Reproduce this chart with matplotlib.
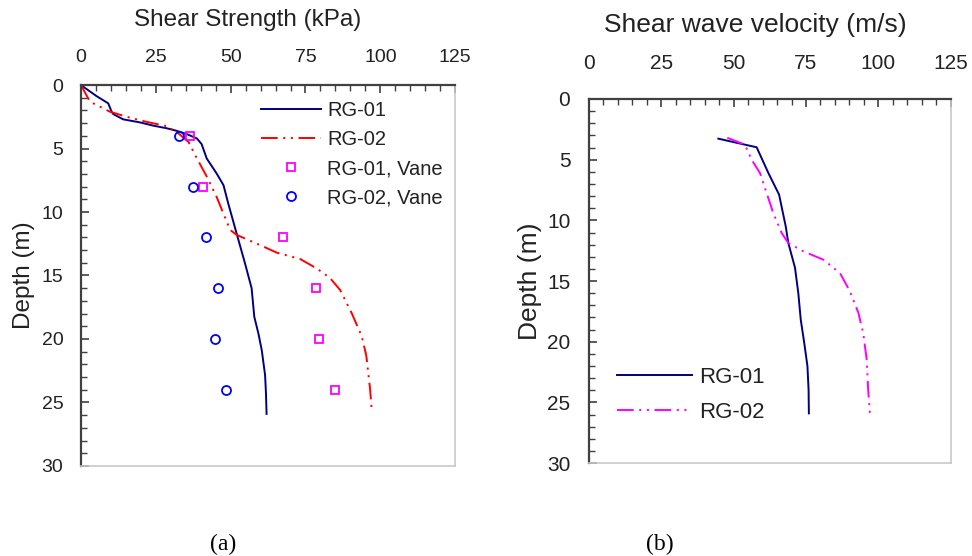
import matplotlib
matplotlib.use("Agg")
import matplotlib.pyplot as plt
from matplotlib.ticker import MultipleLocator

plt.rcParams["font.family"] = ["Liberation Sans", "DejaVu Sans"]
plt.rcParams["lines.scale_dashes"] = False

# --- (a) shear strength profiles ---
rg01_su = [0, 5.2, 9.1, 10.25, 10.8, 14.1, 19.7, 24.2, 28.6, 31.9, 35.3, 38.7, 40.3, 42.0,
           45.3, 47.6, 49.2, 52.0, 54.8, 57.0, 57.9, 59.3, 60.4, 61.5, 61.8, 62.0]
rg01_su_depth = [0, 0.87, 1.44, 2.1, 2.29, 2.7, 2.94, 3.2, 3.4, 3.6, 3.86, 4.2, 4.65, 5.78,
                 6.96, 7.88, 9.33, 11.7, 14.05, 16.0, 18.26, 19.6, 20.9, 22.85, 24.3, 25.9]
rg02_su = [0, 3.0, 9.7, 15.3, 21.9, 28.6, 32.5, 35.9, 38.1, 42.0, 45.3, 49.8, 52.0, 59.8,
           65.4, 73.2, 78.8, 83.2, 86.6, 90.5, 93.8, 95.3, 96.6, 97.1]
rg02_su_depth = [0, 1.31, 2.1, 2.5, 2.9, 3.23, 3.8, 4.47, 5.5, 7.2, 8.8, 11.4, 11.8, 12.6,
                 13.2, 13.7, 14.45, 15.2, 16.15, 18.0, 19.8, 21.3, 24.0, 25.6]

vane_depth = [4, 8, 12, 16, 20, 24]
rg01_vane = [36.4, 40.7, 67.6, 78.4, 79.5, 84.7]
rg02_vane = [32.9, 37.5, 41.7, 45.9, 44.8, 48.5]

# --- (b) shear wave velocity profiles ---
rg01_vs = [44.7, 57.95, 62.0, 65.7, 68.0, 68.9, 71.2, 72.35, 73.2, 74.4, 75.5, 75.9, 76.0]
rg01_vs_depth = [3.27, 3.98, 6.1, 7.88, 10.5, 11.87, 13.9, 16.0, 18.2, 20.1, 22.0, 23.96, 25.9]
rg02_vs = [47.8, 53.9, 56.2, 59.1, 61.4, 63.7, 66.6, 68.9, 74.1, 81.0, 86.75, 90.2, 93.1,
           94.8, 96.0, 96.5, 97.1]
rg02_vs_depth = [3.2, 3.76, 5.0, 6.1, 7.75, 9.4, 11.04, 11.87, 12.55, 13.24, 14.34, 15.85,
                 17.6, 19.3, 21.5, 23.96, 25.9]

DASHDOT = (0, (12, 4, 1.5, 4, 1.5, 4))
TXT = "#222222"


def style_axes(ax, fs, xpad):
    ax.set_xlim(0, 125)
    ax.set_ylim(30, 0)
    ax.xaxis.set_major_locator(MultipleLocator(25))
    ax.xaxis.set_minor_locator(MultipleLocator(5))
    ax.yaxis.set_major_locator(MultipleLocator(5))
    ax.yaxis.set_minor_locator(MultipleLocator(1))
    ax.xaxis.tick_top()
    ax.tick_params(axis="both", which="both", direction="in", colors="#404040",
                   labelcolor=TXT, labelsize=fs)
    ax.tick_params(axis="both", which="major", length=6, width=1.2)
    ax.tick_params(axis="both", which="minor", length=4, width=1.0)
    ax.tick_params(axis="x", which="major", pad=xpad)
    ax.tick_params(axis="y", which="major", pad=fs * 0.9)
    for s in ("top", "left"):
        ax.spines[s].set_color("#404040")
        ax.spines[s].set_linewidth(1.6)
    for s in ("right", "bottom"):
        ax.spines[s].set_color("#c8c8c8")
        ax.spines[s].set_linewidth(1.2)


fig = plt.figure(figsize=(9.72, 5.56), dpi=100)

# panel (a)
ax1 = fig.add_axes([0.0833, 0.162, 0.385, 0.685])
ax1.plot(rg01_su, rg01_su_depth, color="#000080", lw=1.4, label="RG-01")
ax1.plot(rg02_su, rg02_su_depth, color="red", lw=1.4, linestyle=DASHDOT, label="RG-02")
ax1.plot(rg01_vane, vane_depth, linestyle="none", marker="s", ms=6, mfc="none",
         mec="magenta", mew=1.3, label="RG-01, Vane")
ax1.plot(rg02_vane, vane_depth, linestyle="none", marker="o", ms=6.5, mfc="none",
         mec="blue", mew=1.3, label="RG-02, Vane")
style_axes(ax1, 14, 14)
ax1.set_xlabel("Shear Strength (kPa)", fontsize=17.5, color=TXT)
ax1.xaxis.set_label_position("top")
ax1.xaxis.set_label_coords((248 - 81) / 374, 1 + (85 - 20) / 381)
ax1.xaxis.label.set_verticalalignment("center")
ax1.set_ylabel("Depth (m)", fontsize=17.5, color=TXT)
ax1.yaxis.label.set_verticalalignment("center")
ax1.yaxis.set_label_coords(-(81 - 24) / 374, 0.5)
leg1 = ax1.legend(loc="upper right", bbox_to_anchor=(1.0, 0.99), frameon=False,
                  fontsize=14.5, handlelength=3.0, handletextpad=0.3, labelspacing=0.5,
                  numpoints=1, borderaxespad=0.2)
for t in leg1.get_texts():
    t.set_color(TXT)

# panel (b)
ax2 = fig.add_axes([0.606, 0.167, 0.372, 0.655])
ax2.plot(rg01_vs, rg01_vs_depth, color="#000080", lw=1.4, label="RG-01")
ax2.plot(rg02_vs, rg02_vs_depth, color="magenta", lw=1.4, linestyle=DASHDOT, label="RG-02")
style_axes(ax2, 15, 19)
ax2.set_xlabel("Shear wave velocity (m/s)", fontsize=19, color=TXT)
ax2.xaxis.set_label_position("top")
ax2.xaxis.set_label_coords((755 - 589) / 362, 1 + (99 - 25) / 364)
ax2.xaxis.label.set_verticalalignment("center")
ax2.set_ylabel("Depth (m)", fontsize=19, color=TXT)
ax2.yaxis.label.set_verticalalignment("center")
ax2.yaxis.set_label_coords(-(589 - 530) / 362, 0.5)
leg2 = ax2.legend(loc="lower left", bbox_to_anchor=(0.04, 0.075), frameon=False,
                  fontsize=16, handlelength=3.4, handletextpad=0.3, labelspacing=0.6,
                  borderaxespad=0.2)
for t in leg2.get_texts():
    t.set_color(TXT)

fig.text(223 / 972, 1 - 544 / 556, "(a)", family=["Liberation Serif", "DejaVu Serif"],
         fontsize=17, ha="center", va="center")
fig.text(660 / 972, 1 - 544 / 556, "(b)", family=["Liberation Serif", "DejaVu Serif"],
         fontsize=17, ha="center", va="center")

fig.savefig("out.png", dpi=100)
